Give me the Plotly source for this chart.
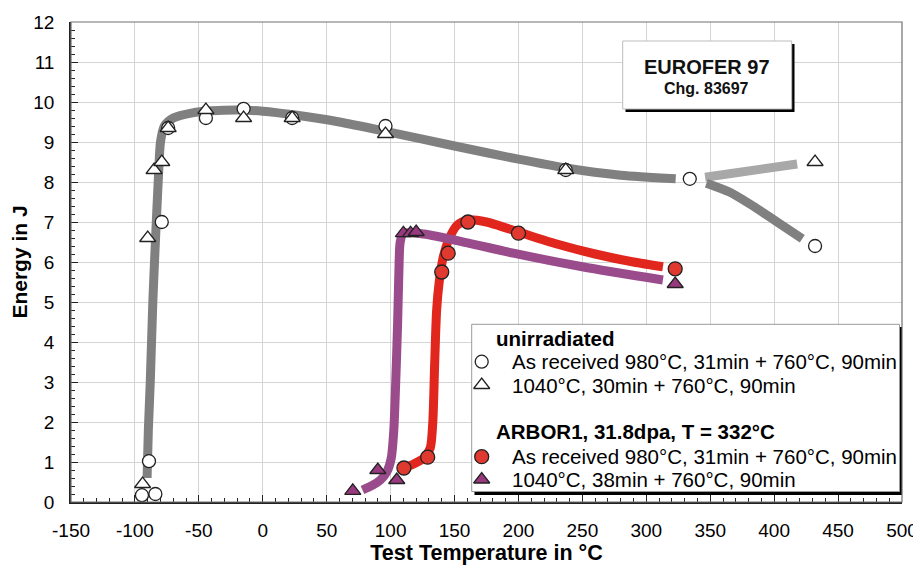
import plotly.graph_objects as go

# ---------------- data ----------------
# unirradiated, as received (open circles)
ur_circ_T = [-94.5, -84, -89, -79, -74, -44.5, -15, 23, 96, 237, 334, 432]
ur_circ_E = [0.17, 0.2, 1.02, 7.0, 9.35, 9.6, 9.83, 9.6, 9.4, 8.3, 8.08, 6.4]
# unirradiated, 1040°C (open triangles)
ur_tri_T = [-94, -90, -85, -79, -74, -44.5, -15, 23, 96, 237, 432]
ur_tri_E = [0.45, 6.6, 8.3, 8.5, 9.35, 9.8, 9.6, 9.6, 9.2, 8.3, 8.5]
# irradiated, as received (red circles)
ir_circ_T = [110.4, 129, 140, 145, 160.5, 200, 322.6]
ir_circ_E = [0.85, 1.12, 5.75, 6.22, 7.0, 6.72, 5.83]
# irradiated, 1040°C (purple triangles)
ir_tri_T = [70.4, 90, 104.8, 110, 115.6, 120, 322.6]
ir_tri_E = [0.28, 0.8, 0.55, 6.72, 6.72, 6.75, 5.45]

# fitted curves
grey_T = [-90.5, -89.5, -88, -86, -84, -83, -81.5, -80, -77, -70, -55, -40, -18, 0,
          24, 60, 97, 150, 200, 237, 280, 323]
grey_E = [0.6, 1.8, 3.0, 5.0, 6.5, 7.2, 8.2, 9.0, 9.4, 9.6, 9.73, 9.78, 9.8, 9.77,
          9.68, 9.5, 9.26, 8.9, 8.57, 8.35, 8.17, 8.08]
light_T = [346, 418]
light_E = [8.12, 8.45]
dark_T = [347, 365, 381, 400, 422]
dark_E = [7.97, 7.75, 7.45, 7.05, 6.58]
red_T = [110, 118, 126, 131, 133, 134.5, 136, 138, 141, 146, 152, 160, 175, 200, 230, 260, 290, 313]
red_E = [0.85, 0.95, 1.1, 1.35, 2.0, 3.5, 4.8, 5.5, 6.1, 6.6, 6.92, 7.05, 7.0, 6.75, 6.45, 6.2, 6.0, 5.88]
pur_T = [78, 86, 92, 97, 100.5, 102.5, 104, 105.5, 106.5, 107.5, 110, 126, 160, 196, 250, 313]
pur_E = [0.3, 0.42, 0.55, 0.75, 1.1, 1.8, 3.0, 4.5, 5.8, 6.5, 6.72, 6.7, 6.48, 6.22, 5.88, 5.55]

x_ticks = list(range(-150, 501, 50))
y_ticks = list(range(0, 13))

legend_rows = [
    ("<b>unirradiated</b>", None),
    ("As received 980°C, 31min + 760°C, 90min", "ur_circ"),
    ("1040°C, 30min + 760°C, 90min", "ur_tri"),
    ("<b>ARBOR1, 31.8dpa, T = 332°C</b>", None),
    ("As received 980°C, 31min + 760°C, 90min", "ir_circ"),
    ("1040°C, 38min + 760°C, 90min", "ir_tri"),
]

# ---------------- styling ----------------
FONT = "Arial, Liberation Sans, sans-serif"
GREY = "#808080"
LIGHT = "#a8a8a8"
RED = "#e0261d"
PURPLE = "#9a4b8b"
RED_FILL = "#e03a30"
PUR_FILL = "#98397f"

W, H = 921, 568
PAGE_OFF = 8  # default body margin of the html page
# plot area on screen
SL, ST, SR, SB = 71, 22, 902, 502
L, T = SL - PAGE_OFF, ST - PAGE_OFF
R, B = W - (SR - PAGE_OFF), H - (SB - PAGE_OFF)
PW, PH = SR - SL, SB - ST
XR = (-150, 500)
YR = (0, 12)


def dx(px):
    return (px - SL) / PW


def dy(py):
    return (SB - py) / PH


def to_x(px):
    return XR[0] + dx(px) * (XR[1] - XR[0])


def to_y(py):
    return YR[0] + dy(py) * (YR[1] - YR[0])


fig = go.Figure()

line_w = 9
for xs, ys, col in [(grey_T, grey_E, GREY), (light_T, light_E, LIGHT), (dark_T, dark_E, GREY),
                    (red_T, red_E, RED), (pur_T, pur_E, PURPLE)]:
    fig.add_trace(go.Scatter(x=xs, y=ys, mode="lines",
                             line=dict(color=col, width=line_w, shape="spline", smoothing=0.7),
                             hoverinfo="skip", showlegend=False))

styles = {
    "ur_circ": dict(symbol="circle", color="white", size=13),
    "ur_tri": dict(symbol="triangle-up", color="white", size=14),
    "ir_circ": dict(symbol="circle", color=RED_FILL, size=14),
    "ir_tri": dict(symbol="triangle-up", color=PUR_FILL, size=14),
}
for key, xs, ys in [("ur_circ", ur_circ_T, ur_circ_E), ("ur_tri", ur_tri_T, ur_tri_E),
                    ("ir_circ", ir_circ_T, ir_circ_E), ("ir_tri", ir_tri_T, ir_tri_E)]:
    st = styles[key]
    fig.add_trace(go.Scatter(x=xs, y=ys, mode="markers", showlegend=False,
                             marker=dict(symbol=st["symbol"], color=st["color"], size=st["size"],
                                         line=dict(color="#222", width=1.3))))

# ---------------- manual legend ----------------
row_py = [338.3, 361.7, 385.0, 431.7, 456.7, 479.5]
shapes = []
# legend box with shadow
shapes.append(dict(type="rect", xref="x", yref="y", layer="between",
                   x0=to_x(474.5), x1=to_x(902.5), y0=to_y(495), y1=to_y(327),
                   fillcolor="black", line=dict(width=0)))
shapes.append(dict(type="rect", xref="x", yref="y", layer="between",
                   x0=to_x(471.7), x1=to_x(899.5), y0=to_y(491.5), y1=to_y(324.3),
                   fillcolor="white", line=dict(color="#9a9a9a", width=1)))
# title box with shadow
shapes.append(dict(type="rect", xref="x", yref="y", layer="between",
                   x0=to_x(625.5), x1=to_x(794.5), y0=to_y(112), y1=to_y(44),
                   fillcolor="black", line=dict(width=0)))
shapes.append(dict(type="rect", xref="x", yref="y", layer="between",
                   x0=to_x(622.7), x1=to_x(791.7), y0=to_y(109), y1=to_y(41),
                   fillcolor="white", line=dict(color="#bdbdbd", width=1)))
# frame (top/right grey)
shapes.append(dict(type="rect", xref="paper", yref="paper", layer="above",
                   x0=0, x1=1, y0=0, y1=1, line=dict(color="#707070", width=1.2)))

annotations = []
for (txt, key), py in zip(legend_rows, row_py):
    xpx = 493.5 if key is None else 509.5
    annotations.append(dict(xref="paper", yref="paper", x=dx(xpx), y=dy(py),
                            text=txt, showarrow=False, xanchor="left", yanchor="middle",
                            font=dict(family=FONT, size=20.5, color="black")))
    if key is not None:
        st = styles[key]
        fig.add_trace(go.Scatter(x=[to_x(481.7)], y=[to_y(py)], mode="markers",
                                 showlegend=False, hoverinfo="skip",
                                 marker=dict(symbol=st["symbol"], color=st["color"], size=st["size"],
                                             line=dict(color="#222", width=1.3))))

annotations.append(dict(xref="paper", yref="paper", x=dx(706.7), y=dy(67),
                        text="<b>EUROFER 97</b>", showarrow=False, xanchor="center", yanchor="middle",
                        font=dict(family=FONT, size=20, color="#111")))
annotations.append(dict(xref="paper", yref="paper", x=dx(706.7), y=dy(88.5),
                        text="<b>Chg. 83697</b>", showarrow=False, xanchor="center", yanchor="middle",
                        font=dict(family=FONT, size=16, color="#111")))

fig.update_layout(
    width=W, height=H,
    margin=dict(l=L, r=R, t=T, b=B, autoexpand=False),
    paper_bgcolor="white", plot_bgcolor="white",
    font=dict(family=FONT, size=18, color="black"),
    showlegend=False,
    shapes=shapes,
    annotations=annotations,
    xaxis=dict(range=list(XR), tickvals=x_ticks, ticktext=[str(v) for v in x_ticks],
               automargin=False,
               showgrid=True, gridcolor="#d4d4d4", gridwidth=1, zeroline=False,
               showline=True, linecolor="#222", linewidth=1.5,
               ticks="inside", ticklen=7, tickcolor="#222", tickwidth=1.2,
               minor=dict(dtick=10, ticks="inside", ticklen=4, tickcolor="#222", showgrid=False),
               tickfont=dict(family=FONT, size=19), ticklabelstandoff=10,
               title=dict(text="<b>Test Temperature in °C</b>", font=dict(family=FONT, size=21.5),
                          standoff=5)),
    yaxis=dict(range=list(YR), tickvals=y_ticks, ticktext=[str(v) for v in y_ticks],
               automargin=False,
               showgrid=True, gridcolor="#d4d4d4", gridwidth=1, zeroline=False,
               showline=True, linecolor="#222", linewidth=1.5,
               ticks="inside", ticklen=7, tickcolor="#222", tickwidth=1.2,
               minor=dict(dtick=0.2, ticks="inside", ticklen=4, tickcolor="#222", showgrid=False),
               tickfont=dict(family=FONT, size=19), ticklabelstandoff=11,
               title=dict(text="<b>Energy in J</b>", font=dict(family=FONT, size=21), standoff=6)),
)

fig.write_html("out.html")
